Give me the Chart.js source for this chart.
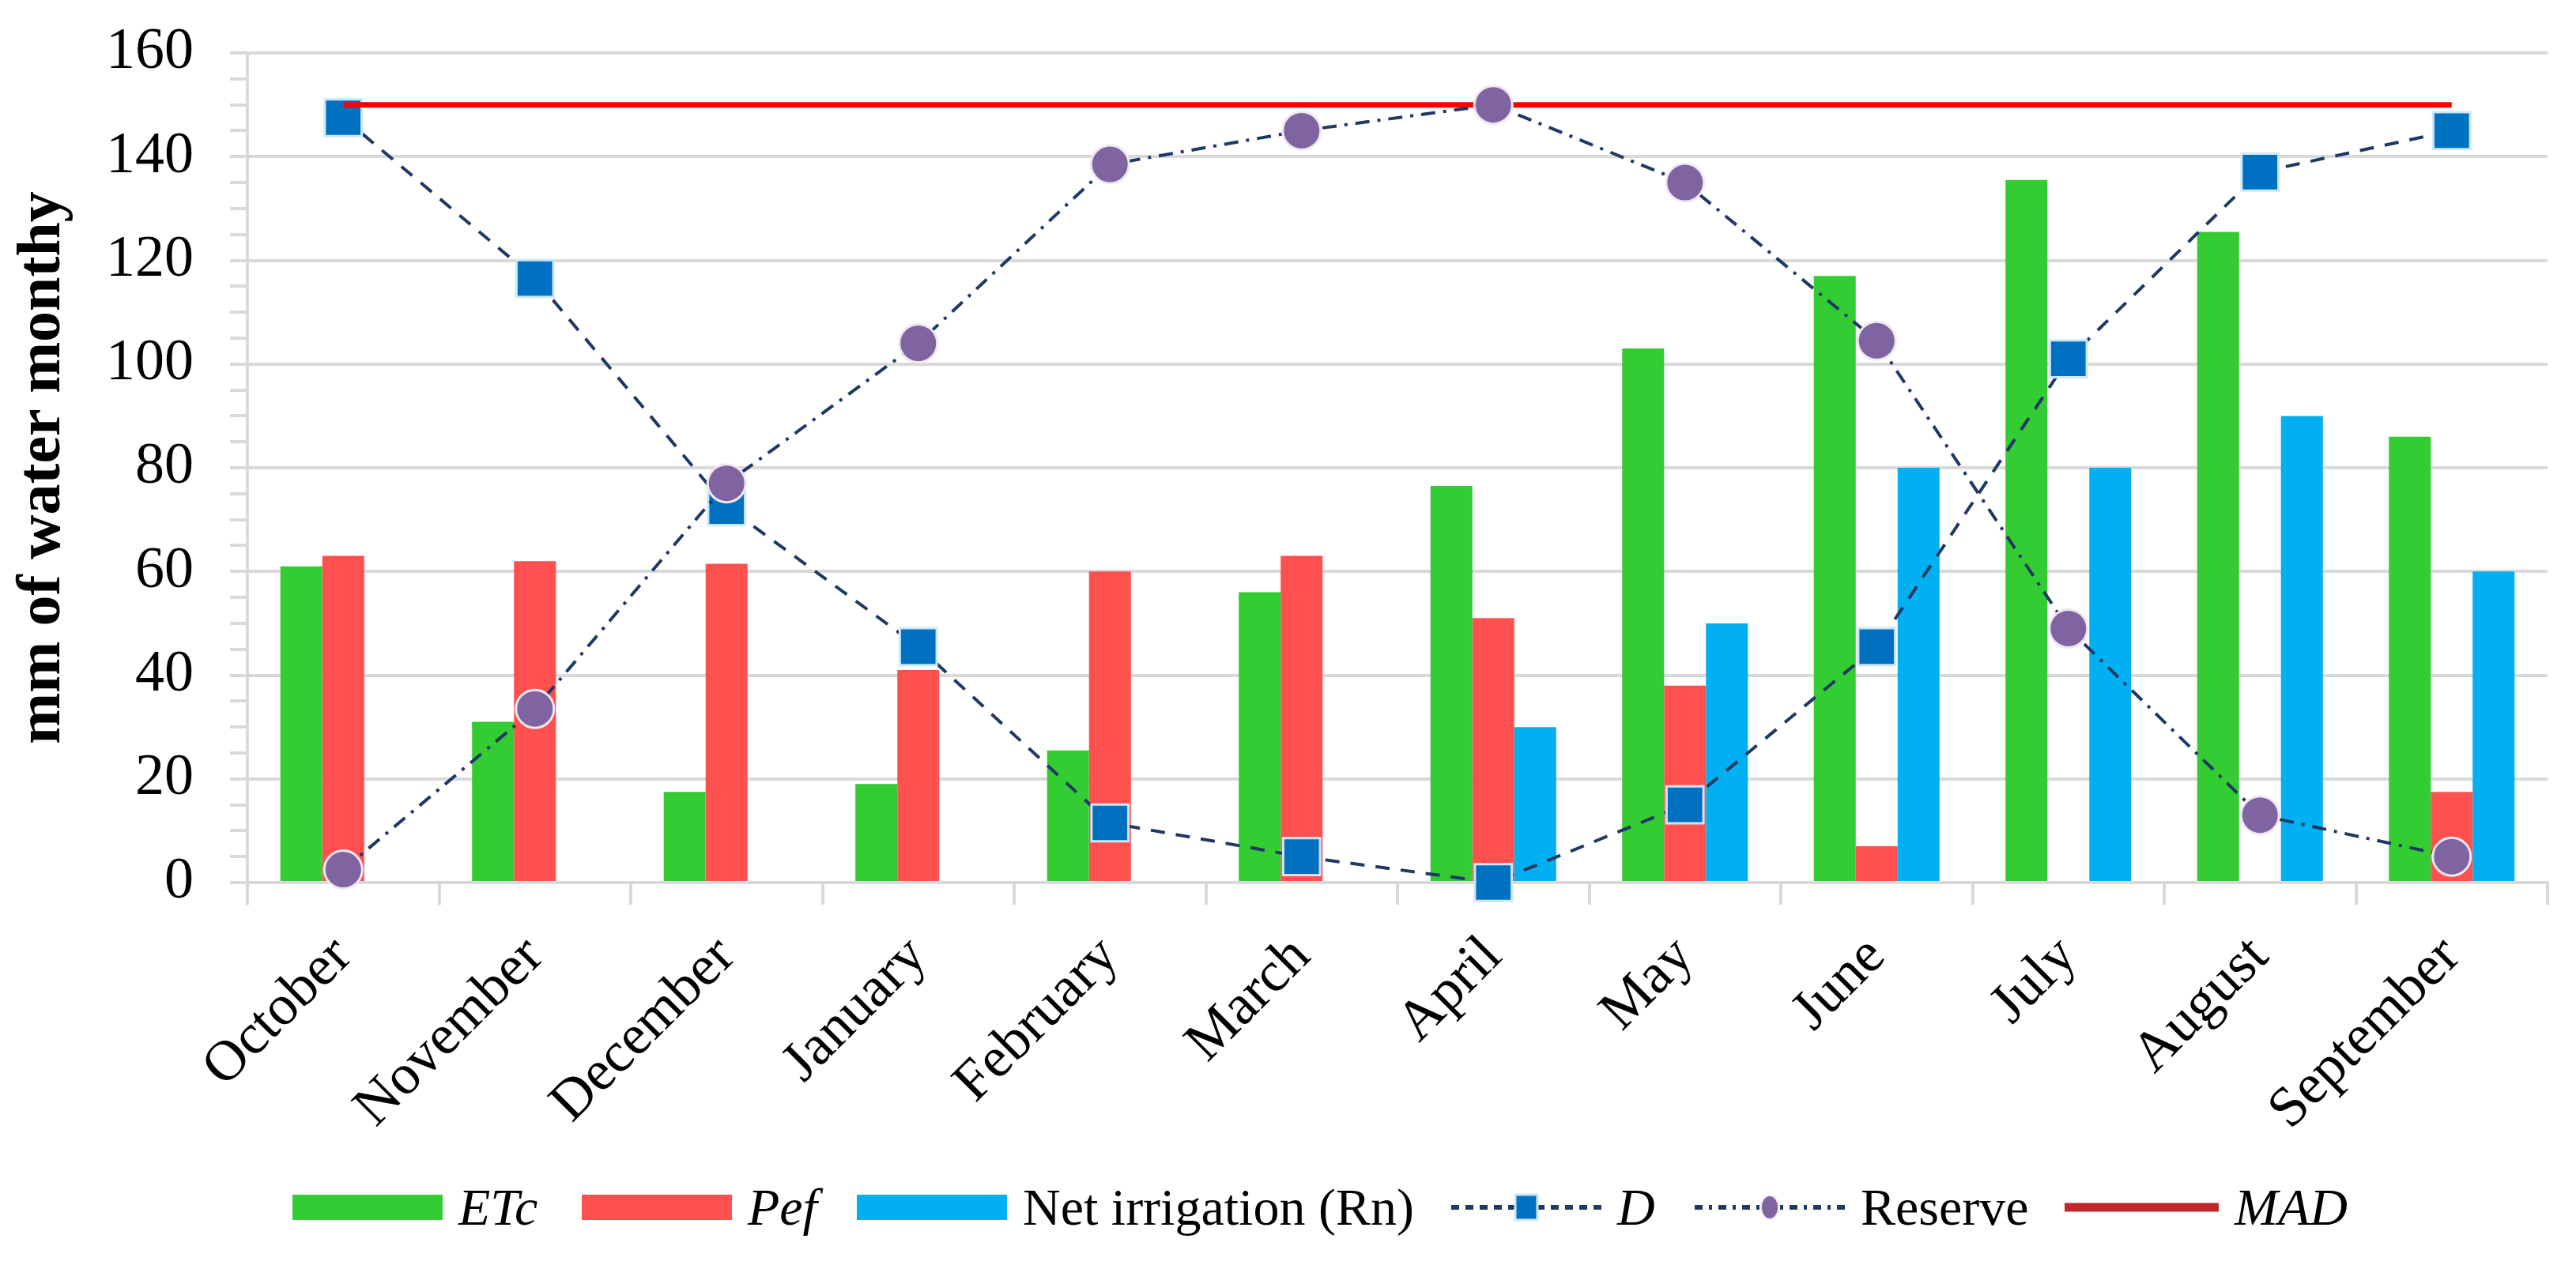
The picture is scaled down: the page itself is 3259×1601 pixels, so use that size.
<!DOCTYPE html>
<html>
<head>
<meta charset="utf-8">
<script src="https://cdn.jsdelivr.net/npm/chart.js@4.4.1/dist/chart.umd.min.js"></script>
<style>
  html, body { margin: 0; padding: 0; background: #fff; }
  #wrap { position: relative; width: 3259px; height: 1601px; }
  #legend { position: absolute; left: 0; top: 0; width: 3259px; height: 1601px; pointer-events: none; color: #000; }
  .item { position: absolute; top: 1488px; height: 80px; display: flex; align-items: center; }
  .item span { font-family: "Liberation Serif", "Times New Roman", serif !important; font-size: 66px; }
  .box { width: 190px; height: 32px; }
  .it { font-style: italic; }
</style>
</head>
<body>
<div id="wrap">
  <canvas id="waterChart" width="3259" height="1601"></canvas>
  <div id="legend"></div>
</div>
<script>
// categorias (meses del ciclo de riego)
var months = ['October', 'November', 'December', 'January', 'February', 'March',
              'April', 'May', 'June', 'July', 'August', 'September'];

// valores, mm de agua por mes
var etcValues = [61, 31, 17.5, 19, 25.5, 56, 76.5, 103, 117, 135.5, 125.5, 86];
var pefValues = [63, 62, 61.5, 41, 60, 63, 51, 38, 7, null, null, 17.5];
var rnValues = [null, null, null, null, null, null, 30, 50, 80, 80, 90, 60];
var dValues = [147.5, 116.5, 72.5, 45.5, 11.5, 5, 0, 15, 45.5, 101, 137, 145];
var reserveValues = [2.5, 33.5, 77, 104, 138.5, 145, 150, 135, 104.5, 49, 13, 5];
var madValues = [150, 150, 150, 150, 150, 150, 150, 150, 150, 150, 150, 150];

// ticks del eje y
var yMin = 0;
var yMax = 160;
var yMajorStep = 20;
var yMinorStep = 5;

var serif = "'Liberation Serif', 'Times New Roman', serif";
var gridGray = '#d9d9d9';
var lineNavy = '#1f3864';

Chart.defaults.font.family = serif;
Chart.defaults.color = '#000';

var ctx = document.getElementById('waterChart');
var waterChart = new Chart(ctx, {
    data: {
        labels: months,
        datasets: [
            {
                type: 'line', label: 'Reserve', data: reserveValues, order: 0,
                borderColor: lineNavy, borderWidth: 4, borderDash: [18, 10, 4, 10],
                pointStyle: 'circle', pointRadius: 24, pointBackgroundColor: '#8064a2',
                pointBorderColor: '#efe7f4', pointBorderWidth: 3, clip: false
            },
            {
                type: 'line', label: 'MAD', data: madValues, order: 1,
                borderColor: '#ff0000', borderWidth: 7, pointRadius: 0
            },
            {
                type: 'line', label: 'D', data: dValues, order: 2,
                borderColor: lineNavy, borderWidth: 4, borderDash: [18, 14],
                pointStyle: 'rect', pointRadius: 33, pointBackgroundColor: '#0070c0',
                pointBorderColor: '#cde6f8', pointBorderWidth: 3, clip: false
            },
            { type: 'bar', label: 'ETc', data: etcValues, backgroundColor: '#33cc33', order: 3 },
            { type: 'bar', label: 'Pef', data: pefValues, backgroundColor: '#ff5050', order: 3 },
            { type: 'bar', label: 'Net irrigation (Rn)', data: rnValues, backgroundColor: '#00b0f0', order: 3 }
        ]
    },
    options: {
        responsive: false,
        animation: false,
        devicePixelRatio: 1,
        layout: { padding: { top: 67, right: 36, bottom: 0, left: 0 } },
        datasets: {
            bar: { barPercentage: 1.0, categoryPercentage: 0.656 }
        },
        plugins: {
            legend: { display: false },
            tooltip: { enabled: false }
        },
        scales: {
            x: {
                offset: true,
                grid: {
                    offset: true,
                    drawOnChartArea: false,
                    color: gridGray,
                    lineWidth: 4,
                    tickLength: 28
                },
                border: { color: gridGray, width: 4 },
                ticks: {
                    font: { size: 72 },
                    color: '#000',
                    minRotation: 45,
                    maxRotation: 45,
                    padding: 24,
                    autoSkip: false
                },
                afterFit: function(scale) { scale.height = 484; }
            },
            y: {
                min: yMin,
                max: yMax,
                grid: {
                    color: function(c) {
                        return (c.tick && c.tick.value % yMajorStep === 0) ? gridGray : 'rgba(0,0,0,0)';
                    },
                    tickColor: gridGray,
                    lineWidth: 4,
                    tickLength: 22
                },
                border: { color: gridGray, width: 4 },
                ticks: {
                    stepSize: yMinorStep,
                    autoSkip: false,
                    font: { size: 74 },
                    color: '#000',
                    padding: 46,
                    callback: function(value) {
                        return value % yMajorStep === 0 ? value : '';
                    }
                },
                title: {
                    display: true,
                    text: 'mm of water monthy',
                    font: { size: 78, weight: 'bold' },
                    color: '#000',
                    padding: { top: 8, bottom: 0 }
                },
                afterFit: function(scale) {
                    // ancho fijo del eje y, sin el relleno extra que agregan las etiquetas
                    scale.width = 313;
                    scale.paddingTop = 0;
                    scale.paddingBottom = 0;
                }
            }
        }
    }
});

// --- leyenda en HTML (texto real, con cursivas como el original) ---
var legendEl = document.getElementById('legend');

function addItem(left, symbolHtml, text, italic) {
    var div = document.createElement('div');
    div.className = 'item';
    div.style.left = left + 'px';
    div.innerHTML = symbolHtml +
        '<span class="' + (italic ? 'it' : '') + '" style="margin-left:20px">' + text + '</span>';
    legendEl.appendChild(div);
}

function boxSymbol(color) {
    return '<div class="box" style="background:' + color + '"></div>';
}

function lineSymbol(dash, marker) {
    var svg = '<svg width="190" height="44" viewBox="0 0 190 44">' +
        '<line x1="0" y1="22" x2="190" y2="22" stroke="' + lineNavy + '" stroke-width="6" stroke-dasharray="' + dash + '"/>';
    if (marker === 'rect') {
        svg += '<rect x="81" y="6" width="28" height="32" fill="#0070c0" stroke="#cde6f8" stroke-width="3"/>';
    } else if (marker === 'circle') {
        svg += '<ellipse cx="95" cy="22" rx="11" ry="15" fill="#8064a2" stroke="#efe7f4" stroke-width="2"/>';
    }
    return svg + '</svg>';
}

addItem(370, boxSymbol('#33cc33'), 'ETc', true);
addItem(736, boxSymbol('#ff5050'), 'Pef', true);
addItem(1084, boxSymbol('#00b0f0'), 'Net irrigation (Rn)', false);
addItem(1836, lineSymbol('10 8', 'rect'), 'D', true);
addItem(2144, lineSymbol('10 8 4 8', 'circle'), 'Reserve', false);
addItem(2612, '<svg width="195" height="44"><line x1="0" y1="22" x2="195" y2="22" stroke="#c0272d" stroke-width="11"/></svg>', 'MAD', true);
</script>
</body>
</html>
